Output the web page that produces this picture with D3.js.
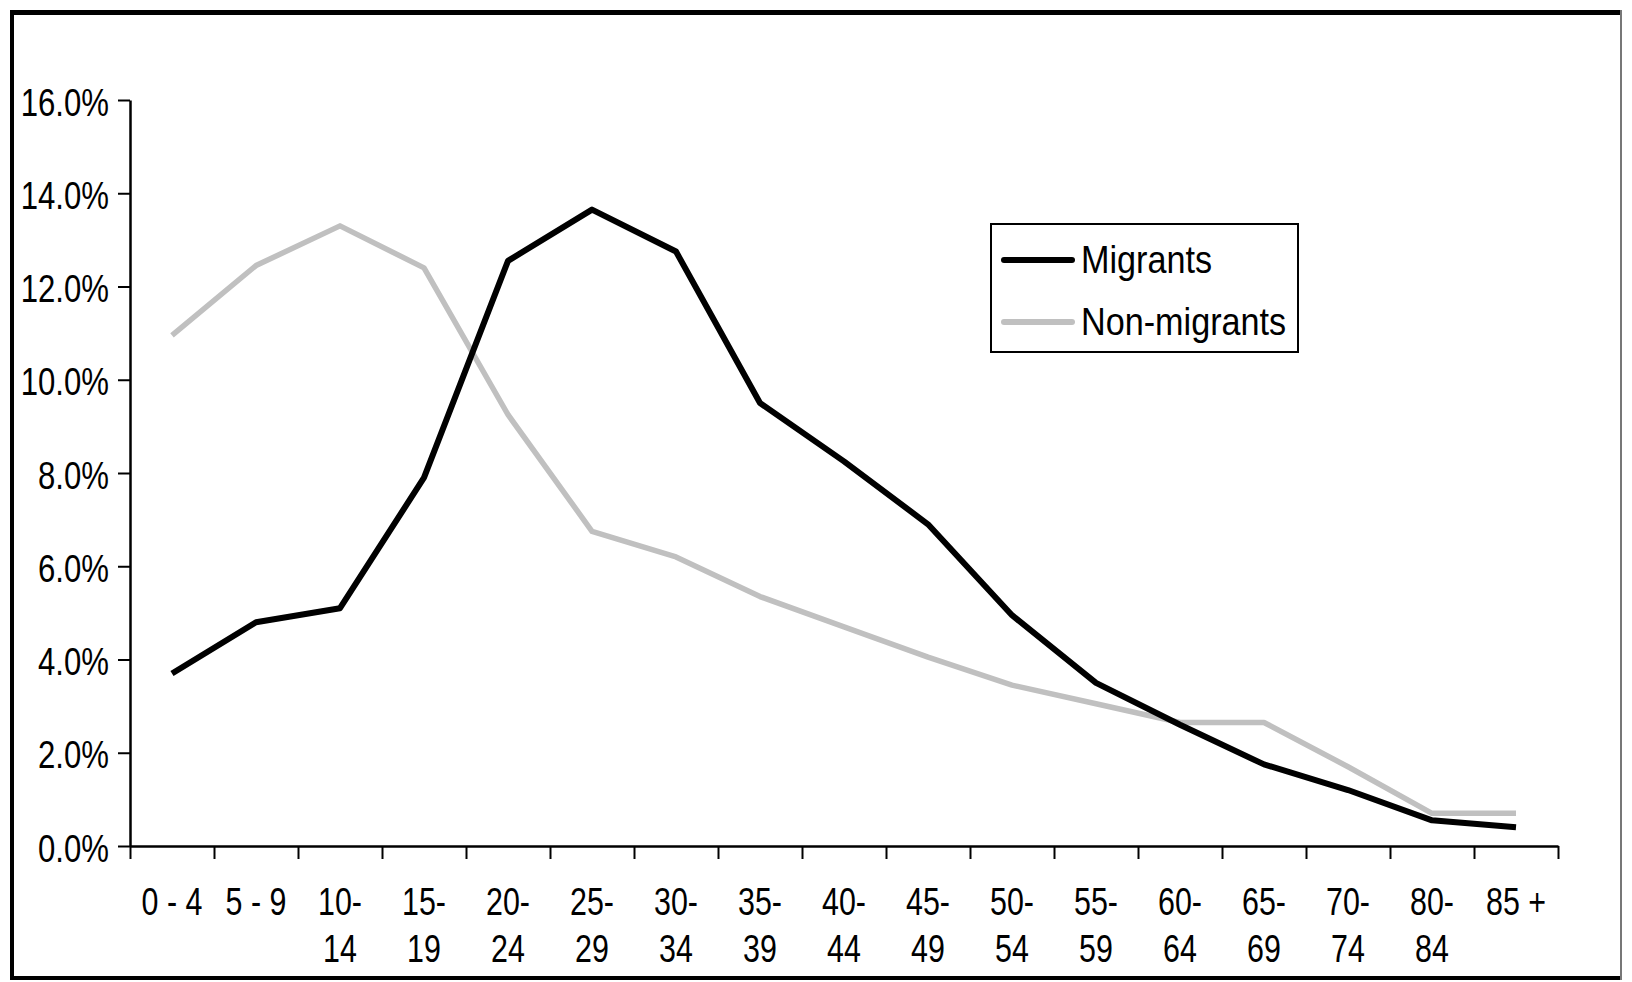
<!DOCTYPE html>
<html>
<head>
<meta charset="utf-8">
<script src="https://cdn.jsdelivr.net/npm/d3@7"></script>
<style>
  body { margin: 0; background: #fff; }
  text { font-family: "Liberation Sans", Arial, sans-serif; fill: #000; }
</style>
</head>
<body>
<div id="container"></div>
<script>
const WIDTH = 1632;
const HEIGHT = 982;

// age groups (75-79 is missing in the source chart)
const ageGroups = ['0 - 4', '5 - 9', '10-14', '15-19', '20-24', '25-29', '30-34', '35-39',
  '40-44', '45-49', '50-54', '55-59', '60-64', '65-69', '70-74', '80-84', '85 +'];
const migrants = [3.7, 4.8, 5.1, 7.9, 12.55, 13.65, 12.75, 9.5, 8.25, 6.9, 4.95, 3.5, 2.6, 1.75, 1.2, 0.55, 0.4];
const nonMigrants = [10.95, 12.45, 13.3, 12.4, 9.25, 6.75, 6.2, 5.35, 4.7, 4.05, 3.45, 3.05, 2.65, 2.65, 1.7, 0.7, 0.7];
const yTicks = [0, 2, 4, 6, 8, 10, 12, 14, 16];
const seriesNames = ['Migrants', 'Non-migrants'];
const seriesColors = ['#000000', '#c0c0c0'];

const svg = d3.select('#container')
  .append('svg')
    .attr('width', WIDTH)
    .attr('height', HEIGHT);

// outer frame
svg.append('line').attr('x1', 10).attr('x2', 1622).attr('y1', 12.5).attr('y2', 12.5)
  .attr('stroke', '#000').attr('stroke-width', 5);
svg.append('line').attr('x1', 12).attr('x2', 12).attr('y1', 10).attr('y2', 980)
  .attr('stroke', '#000').attr('stroke-width', 4);
svg.append('line').attr('x1', 10).attr('x2', 1622).attr('y1', 978).attr('y2', 978)
  .attr('stroke', '#000').attr('stroke-width', 4);
svg.append('line').attr('x1', 1621).attr('x2', 1621).attr('y1', 10).attr('y2', 980)
  .attr('stroke', '#777').attr('stroke-width', 2);

const x = d3.scaleLinear().domain([0, ageGroups.length]).range([130, 1558]);
const y = d3.scaleLinear().domain([0, 16]).range([846, 100]);

// y axis
const yAxis = svg.append('g')
  .attr('transform', 'translate(130,0)')
  .call(d3.axisLeft(y).tickValues(yTicks).tickSize(12).tickSizeOuter(0)
    .tickFormat(d => d3.format('.1f')(d) + '%'));
yAxis.select('.domain').attr('stroke-width', 2.5);
yAxis.selectAll('.tick line').attr('stroke-width', 2);
yAxis.selectAll('.tick text')
  .attr('x', null).attr('dy', null)
  .attr('font-size', 38)
  .attr('text-anchor', 'end')
  .attr('transform', 'translate(-21,15) scale(0.82,1)');

// x axis: ticks sit on band edges, labels in between
const xAxis = svg.append('g')
  .attr('transform', 'translate(0,846)')
  .call(d3.axisBottom(x).tickValues(d3.range(ageGroups.length + 1)).tickSize(13)
    .tickSizeOuter(0).tickFormat(''));
xAxis.select('.domain').attr('stroke-width', 2.5);
xAxis.selectAll('.tick line').attr('stroke-width', 2);

const labels = svg.append('g');
ageGroups.forEach((g, i) => {
  const cx = x(i + 0.5);
  const parts = g.indexOf(' ') >= 0 ? [g] : [g.split('-')[0] + '-', g.split('-')[1]];
  parts.forEach((p, j) => {
    labels.append('text')
      .attr('font-size', 38)
      .attr('text-anchor', 'middle')
      .attr('transform', `translate(${cx},${915 + j * 47}) scale(0.8,1)`)
      .text(p);
  });
});

// lines
const line = d3.line()
  .x((d, i) => x(i + 0.5))
  .y(d => y(d));

[nonMigrants, migrants].forEach((s, k) => {
  svg.append('path')
    .datum(s)
    .attr('fill', 'none')
    .attr('stroke', k === 0 ? seriesColors[1] : seriesColors[0])
    .attr('stroke-width', k === 0 ? 5.5 : 6)
    .attr('stroke-linejoin', 'round')
    .attr('d', line);
});

// legend
const legend = svg.append('g');
legend.append('rect')
  .attr('x', 991).attr('y', 224).attr('width', 307).attr('height', 128)
  .attr('fill', '#fff').attr('stroke', '#000').attr('stroke-width', 2);
seriesNames.forEach((name, i) => {
  const ly = 260 + i * 62;
  legend.append('line')
    .attr('x1', 1004).attr('x2', 1072).attr('y1', ly).attr('y2', ly)
    .attr('stroke', seriesColors[i]).attr('stroke-width', 6)
    .attr('stroke-linecap', 'round');
  legend.append('text')
    .attr('font-size', 38)
    .attr('transform', `translate(1081,${ly + 13}) scale(0.9,1)`)
    .text(name);
});
</script>
</body>
</html>
